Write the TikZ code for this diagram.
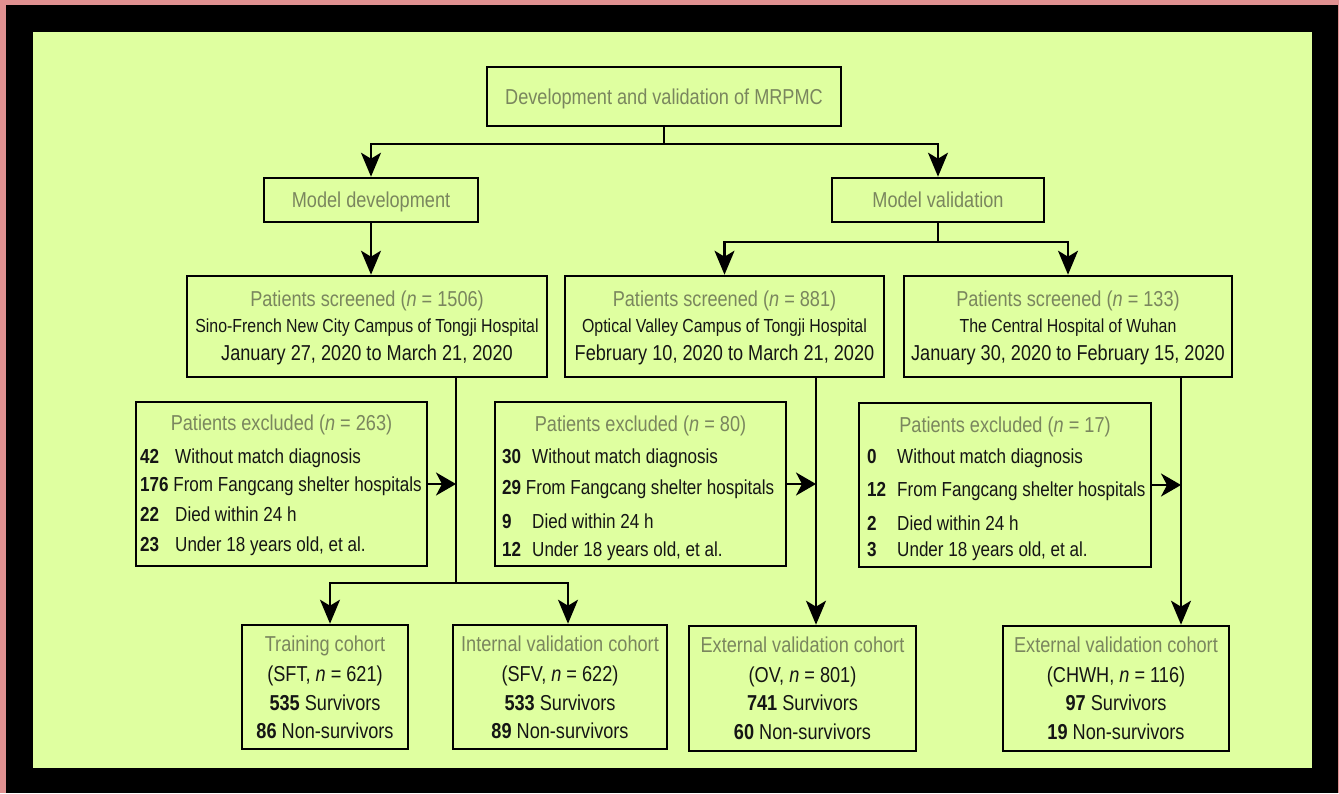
\documentclass[tikz,border=0pt]{standalone}
\usepackage{fontspec}
\setmainfont{Liberation Sans}[FakeStretch=0.84]
\usetikzlibrary{arrows.meta}
\definecolor{bgpink}{HTML}{E09090}
\definecolor{bggreen}{HTML}{DFFFA0}
\definecolor{txtgray}{HTML}{7A865E}
\definecolor{txtdark}{HTML}{151515}
\tikzset{
  box/.style={draw=black, line width=2.6pt, rectangle, inner sep=0pt},
  ttl/.style={text=txtgray, font=\fontsize{21.6}{24}\selectfont, anchor=base, inner sep=0pt},
  big/.style={text=txtdark, font=\fontsize{21.6}{24}\selectfont, anchor=base, inner sep=0pt},
  hosp/.style={text=txtdark, font=\fontsize{18.9}{22}\selectfont, anchor=base, inner sep=0pt},
  row/.style={text=txtdark, font=\fontsize{20.3}{24}\selectfont, anchor=base west, inner sep=0pt},
  conn/.style={line width=2.3pt, draw=black},
  arrv/.style={conn, -{Stealth[length=24pt,width=20pt,inset=6pt]}},
  arrh/.style={conn, -{Stealth[length=20pt,width=23pt,inset=6pt]}},
}
\begin{document}
\begin{tikzpicture}[x=1pt,y=-1pt]
\fill[bgpink] (0,0) rectangle (1339,793);
\fill[black] (6,5) rectangle (1338,793);
\fill[bggreen] (33,32) rectangle (1312,768);
\useasboundingbox (0,0) rectangle (1339,793);

% ---- boxes ----
\node[box, minimum width=354pt, minimum height=59pt] (top) at (664,96.5) {};
\node[box, minimum width=214pt, minimum height=44pt] (dev) at (371,200) {};
\node[box, minimum width=212pt, minimum height=44pt] (val) at (938,200) {};
\node[box, minimum width=360pt, minimum height=101pt] (scr1) at (367,326.5) {};
\node[box, minimum width=319pt, minimum height=101pt] (scr2) at (724.5,326.5) {};
\node[box, minimum width=328pt, minimum height=101pt] (scr3) at (1068,326.5) {};
\node[box, minimum width=291pt, minimum height=164pt] (exc1) at (281.5,484) {};
\node[box, minimum width=291pt, minimum height=164pt] (exc2) at (640.5,484) {};
\node[box, minimum width=292pt, minimum height=164pt] (exc3) at (1005,485) {};
\node[box, minimum width=166pt, minimum height=124pt] (trn) at (325,687) {};
\node[box, minimum width=214pt, minimum height=124pt] (int) at (560,687) {};
\node[box, minimum width=227pt, minimum height=125pt] (ov) at (802.5,688.5) {};
\node[box, minimum width=226pt, minimum height=125pt] (chwh) at (1116,688.5) {};

% ---- texts ----
\node[ttl] (tTop) at (664,104) {Development and validation of MRPMC};
\node[ttl] (tDev) at (371,207) {Model development};
\node[ttl] (tVal) at (938,207) {Model validation};

\node[ttl] (s1a) at (367,306) {Patients screened (\textit{n} = 1506)};
\node[hosp] (s1b) at (367,332) {Sino-French New City Campus of Tongji Hospital};
\node[big] (s1c) at (367,360) {January 27, 2020 to March 21, 2020};

\node[ttl] (s2a) at (724.5,306) {Patients screened (\textit{n} = 881)};
\node[hosp] (s2b) at (724.5,332) {Optical Valley Campus of Tongji Hospital};
\node[big] (s2c) at (724.5,360) {February 10, 2020 to March 21, 2020};

\node[ttl] (s3a) at (1068,306) {Patients screened (\textit{n} = 133)};
\node[hosp] (s3b) at (1068,332) {The Central Hospital of Wuhan};
\node[big] (s3c) at (1068,360) {January 30, 2020 to February 15, 2020};

% excluded 1
\node[ttl] (e1t) at (281.5,430) {Patients excluded (\textit{n} = 263)};
\node[row] (e1n1) at (140,463) {\textbf{42}};
\node[row] (e1r1) at (175,463) {Without match diagnosis};
\node[row] (e1r2) at (140,491) {\textbf{176} From Fangcang shelter hospitals};
\node[row] (e1n3) at (140,521) {\textbf{22}};
\node[row] (e1r3) at (175,521) {Died within 24 h};
\node[row] (e1n4) at (140,551) {\textbf{23}};
\node[row] (e1r4) at (175,551) {Under 18 years old, et al.};

% excluded 2
\node[ttl] (e2t) at (640.5,431) {Patients excluded (\textit{n} = 80)};
\node[row] (e2n1) at (502,463) {\textbf{30}};
\node[row] (e2r1) at (532,463) {Without match diagnosis};
\node[row] (e2r2) at (502,494) {\textbf{29} From Fangcang shelter hospitals};
\node[row] (e2n3) at (502,528) {\textbf{9}};
\node[row] (e2r3) at (532,528) {Died within 24 h};
\node[row] (e2n4) at (502,556) {\textbf{12}};
\node[row] (e2r4) at (532,556) {Under 18 years old, et al.};

% excluded 3
\node[ttl] (e3t) at (1005,432) {Patients excluded (\textit{n} = 17)};
\node[row] (e3n1) at (867,463) {\textbf{0}};
\node[row] (e3r1) at (897,463) {Without match diagnosis};
\node[row] (e3n2) at (867,496) {\textbf{12}};
\node[row] (e3r2) at (897,496) {From Fangcang shelter hospitals};
\node[row] (e3n3) at (867,530) {\textbf{2}};
\node[row] (e3r3) at (897,530) {Died within 24 h};
\node[row] (e3n4) at (867,556) {\textbf{3}};
\node[row] (e3r4) at (897,556) {Under 18 years old, et al.};

% cohorts
\node[ttl] (c1a) at (325,651) {Training cohort};
\node[big] (c1b) at (325,681) {(SFT, \textit{n} = 621)};
\node[big] (c1c) at (325,710) {\textbf{535} Survivors};
\node[big] (c1d) at (325,738) {\textbf{86} Non-survivors};

\node[ttl] (c2a) at (560,651) {Internal validation cohort};
\node[big] (c2b) at (560,681) {(SFV, \textit{n} = 622)};
\node[big] (c2c) at (560,710) {\textbf{533} Survivors};
\node[big] (c2d) at (560,738) {\textbf{89} Non-survivors};

\node[ttl] (c3a) at (802.5,652) {External validation cohort};
\node[big] (c3b) at (802.5,682) {(OV, \textit{n} = 801)};
\node[big] (c3c) at (802.5,710) {\textbf{741} Survivors};
\node[big] (c3d) at (802.5,739) {\textbf{60} Non-survivors};

\node[ttl] (c4a) at (1116,652) {External validation cohort};
\node[big] (c4b) at (1116,682) {(CHWH, \textit{n} = 116)};
\node[big] (c4c) at (1116,710) {\textbf{97} Survivors};
\node[big] (c4d) at (1116,739) {\textbf{19} Non-survivors};

% ---- connectors ----
\coordinate (b1) at (664,144);
\draw[conn] (top.south) -- (b1);
\draw[arrv] (b1) -| (dev.north);
\draw[arrv] (b1) -| (val.north);

\draw[arrv] (dev.south) -- (dev.south |- scr1.north);

\coordinate (b2) at (938,242);
\draw[conn] (val.south) -- (b2);
\draw[arrv] (b2) -| (scr2.north);
\draw[arrv] (b2) -| (scr3.north);

\coordinate (v1top) at (456,377);
\coordinate (v1bot) at (456,583);
\draw[conn] (v1top) -- (v1bot);
\draw[arrv] (v1bot) -| ([xshift=5pt]trn.north);
\draw[arrv] (v1bot) -| ([xshift=8pt]int.north);
\draw[arrh] (exc1.east) -- (exc1.east -| v1top);

\coordinate (v2top) at (816,377);
\draw[arrv] (v2top) -- (v2top |- ov.north);
\draw[arrh] (exc2.east) -- (exc2.east -| v2top);

\coordinate (v3top) at (1181,377);
\draw[arrv] (v3top) -- (v3top |- chwh.north);
\draw[arrh] (exc3.east) -- (exc3.east -| v3top);
\end{tikzpicture}
\end{document}
